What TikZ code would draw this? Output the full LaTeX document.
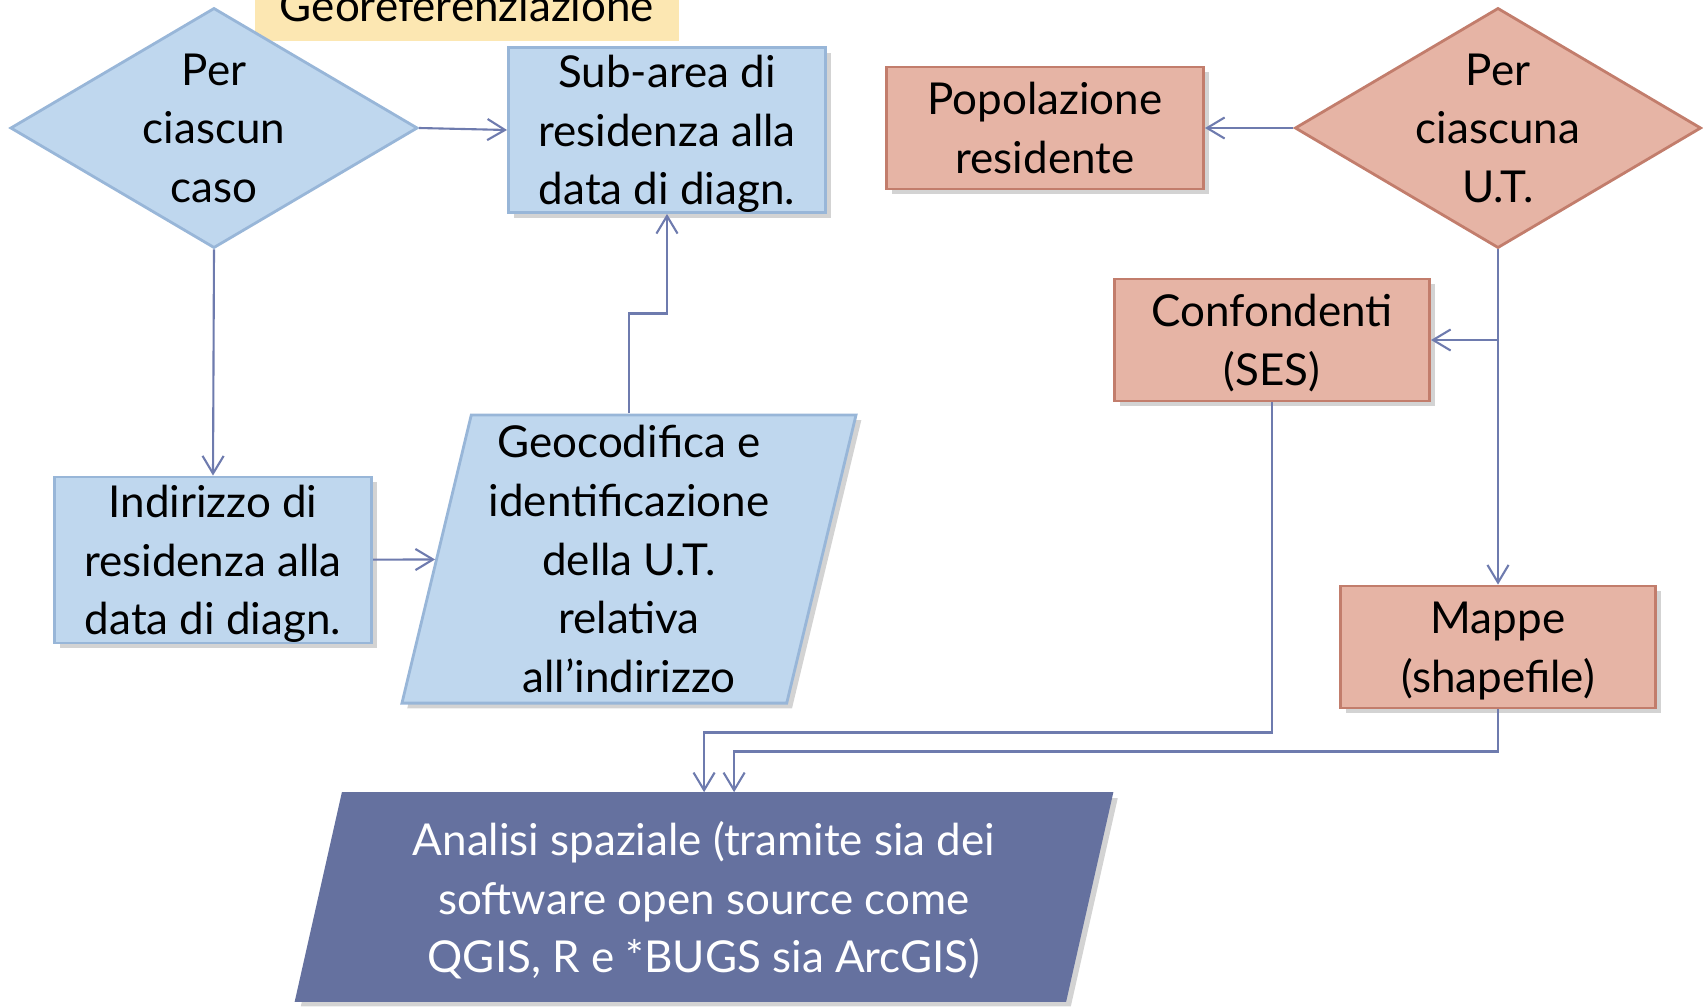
\documentclass[tikz,border=0pt]{standalone}
\usepackage{fontspec}
\setmainfont{Lato}
\usetikzlibrary{shapes.geometric, positioning, arrows.meta, shadows}

\definecolor{bluchiaro}{HTML}{BFD7EE}
\definecolor{blubordo}{HTML}{98B6D8}
\definecolor{rosa}{HTML}{E6B4A5}
\definecolor{rosabordo}{HTML}{C27D6C}
\definecolor{bluscuro}{HTML}{65719F}
\definecolor{giallo}{HTML}{FCE7B2}
\definecolor{linea}{HTML}{6E7BAE}

\tikzset{
  carattere/.style={font=\fontsize{12.5}{16.7}\selectfont},
  testo/.style={carattere, align=center, execute at begin node=\strut, execute at end node=\strut, text depth=-0.6pt},
  ombra/.style={drop shadow={shadow xshift=1.5pt, shadow yshift=-1.5pt, opacity=0.35}},
  blubox/.style={rectangle, draw=blubordo, line width=0.8pt, fill=bluchiaro, testo, ombra, inner sep=0pt},
  rosabox/.style={rectangle, draw=rosabordo, line width=0.8pt, fill=rosa, testo, ombra, inner sep=0pt},
  blurombo/.style={diamond, draw=blubordo, line width=0.8pt, fill=bluchiaro, inner sep=0pt,
    minimum width=4.07cm, minimum height=2.4cm},
  rosarombo/.style={diamond, draw=rosabordo, line width=0.8pt, fill=rosa, inner sep=0pt,
    minimum width=4.06cm, minimum height=2.4cm},
  paral/.style={trapezium, trapezium stretches=true, inner sep=0pt, testo, ombra},
  freccia/.style={draw=linea, line width=0.6pt, -{Straight Barb[length=5pt,width=6pt]}}
}

\begin{document}
\begin{tikzpicture}[x=0.01cm, y=-0.01cm]
	\useasboundingbox (0,0) rectangle (1703,1006);
	
	% titolo
	\node[fill=giallo, carattere, minimum width=4.24cm, minimum height=0.7cm] (titolo) at (467,6) {Georeferenziazione};
	
	% lato casi
	\node[blurombo, label={[testo]center:Per\\ciascun\\caso}] (caso) at (214,128) {};
	\node[blubox, minimum width=3.17cm, minimum height=1.65cm] (subarea) at (667,130) {Sub-area di\\residenza alla\\data di diagn.};
	\node[blubox, minimum width=3.17cm, minimum height=1.66cm] (indirizzo) at (213,560) {Indirizzo di\\residenza alla\\data di diagn.};
	\node[paral, draw=blubordo, line width=0.8pt, fill=bluchiaro, trapezium left angle=77, trapezium right angle=103,
	  minimum width=4.54cm, minimum height=2.88cm] (geocod) at (629,559)
	  {Geocodifica e\\identificazione\\della U.T.\\relativa\\all’indirizzo};
	
	% lato U.T.
	\node[rosarombo, label={[testo]center:Per\\ciascuna\\U.T.}] (ut) at (1498,128) {};
	\node[rosabox, minimum width=3.17cm, minimum height=1.22cm] (popol) at (1045,128) {Popolazione\\residente};
	\node[rosabox, minimum width=3.15cm, minimum height=1.22cm] (confond) at (1272,340) {Confondenti\\(SES)};
	\node[rosabox, minimum width=3.15cm, minimum height=1.22cm] (mappe) at (1498,647) {Mappe\\(shapefile)};
	
	% analisi
	\node[paral, draw=bluscuro, fill=bluscuro, text=white, text depth=-2.5pt, trapezium left angle=76, trapezium right angle=104,
	  minimum width=8.17cm, minimum height=2.08cm] (analisi) at (704,897)
	  {Analisi spaziale (tramite sia dei\\software open source come\\QGIS, R e *BUGS sia ArcGIS)};
	
	\coordinate (bivio) at (ut.south |- confond.east);
	
	\draw[freccia] (caso.east) -- (subarea.west);
	\draw[freccia] (caso.south) -- (indirizzo.north);
	\draw[freccia] (indirizzo) -- (geocod);
	\draw[freccia] (geocod.north) -- ++(0,-100) -| (subarea.south);
	
	\draw[freccia] (ut.west) -- (popol.east);
	\draw[freccia] (ut.south) -- (mappe.north);
	\draw[freccia] (bivio) -- (confond.east);
	
	\draw[freccia] (confond.south) -- ++(0,330) -| (analisi.north);
	\draw[freccia] (mappe.south) -- ++(0,42) -| ([xshift=0.3cm]analisi.north);
\end{tikzpicture}
\end{document}
